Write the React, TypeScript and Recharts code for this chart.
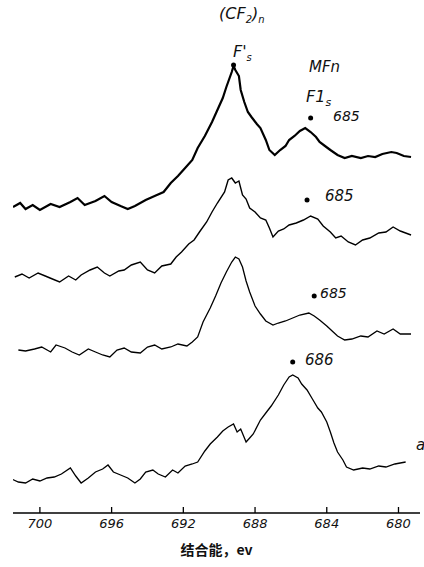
import React from 'react';
import { LineChart, Line, XAxis, YAxis, ReferenceDot } from 'recharts';

// binding energy (eV) and offset intensity for each stacked spectrum, top to bottom
const energyA = [701.5, 701.1, 700.8, 700.4, 700.0, 699.4, 698.9, 698.3, 697.9, 697.5, 696.9, 696.4, 696.0, 695.5, 695.1, 694.7, 694.1, 693.6, 693.1, 692.7, 692.3, 691.9, 691.5, 691.2, 690.8, 690.4, 690.1, 689.8, 689.6, 689.3, 689.2, 689.1, 688.9, 688.8, 688.6, 688.4, 688.2, 687.9, 687.7, 687.4, 687.2, 686.9, 686.6, 686.3, 686.1, 685.8, 685.5, 685.2, 684.9, 684.6, 684.4, 684.1, 683.8, 683.4, 683.0, 682.6, 682.1, 681.7, 681.3, 680.9, 680.4, 680.1, 679.7, 679.3];
const intensityA = [306, 310, 304, 308, 303, 309, 306, 311, 315, 308, 312, 317, 311, 307, 304, 307, 313, 317, 321, 330, 337, 345, 353, 365, 377, 391, 403, 415, 426, 441, 447, 443, 437, 423, 411, 401, 396, 389, 385, 373, 363, 358, 363, 367, 373, 377, 382, 385, 381, 376, 371, 367, 363, 358, 355, 357, 355, 357, 356, 359, 361, 360, 357, 356];

const energyB = [701.4, 701.0, 700.6, 700.1, 699.7, 699.3, 698.9, 698.4, 698.0, 697.7, 697.2, 696.8, 696.4, 696.1, 695.6, 695.3, 694.9, 694.4, 694.0, 693.6, 693.2, 692.7, 692.4, 692.1, 691.7, 691.4, 691.1, 690.7, 690.4, 690.1, 689.7, 689.5, 689.3, 689.1, 688.9, 688.7, 688.5, 688.3, 688.0, 687.7, 687.4, 687.2, 687.0, 686.7, 686.4, 686.1, 685.7, 685.3, 684.9, 684.5, 684.2, 683.8, 683.5, 683.2, 682.8, 682.4, 682.0, 681.6, 681.1, 680.7, 680.3, 679.9, 679.3];
const intensityB = [236, 239, 235, 240, 237, 234, 231, 237, 233, 238, 243, 246, 240, 237, 242, 243, 248, 251, 243, 240, 247, 249, 256, 261, 269, 273, 281, 291, 301, 310, 321, 333, 335, 330, 332, 318, 314, 305, 301, 295, 293, 285, 276, 282, 284, 288, 290, 293, 297, 294, 287, 281, 275, 277, 271, 268, 273, 275, 280, 281, 286, 282, 278];

const energyC = [701.2, 700.8, 700.3, 699.9, 699.4, 699.1, 698.6, 698.2, 697.8, 697.3, 696.9, 696.5, 696.1, 695.7, 695.3, 694.9, 694.4, 694.0, 693.6, 693.2, 692.7, 692.3, 691.8, 691.5, 691.2, 690.9, 690.5, 690.2, 689.9, 689.6, 689.3, 689.1, 688.9, 688.7, 688.5, 688.3, 688.0, 687.7, 687.4, 687.0, 686.7, 686.3, 685.9, 685.5, 685.0, 684.7, 684.4, 684.0, 683.7, 683.4, 683.0, 682.6, 682.1, 681.7, 681.2, 680.8, 680.3, 679.9, 679.3];
const intensityC = [163, 162, 164, 166, 161, 168, 165, 161, 158, 164, 161, 158, 156, 163, 165, 161, 160, 166, 168, 164, 166, 169, 167, 171, 176, 191, 205, 217, 230, 241, 251, 256, 254, 246, 232, 221, 207, 199, 192, 188, 190, 192, 195, 198, 200, 197, 193, 187, 182, 177, 173, 174, 177, 176, 182, 179, 184, 179, 179];

const energyD = [701.7, 701.2, 700.8, 700.4, 700.0, 699.6, 699.2, 698.8, 698.3, 698.0, 697.7, 697.3, 696.9, 696.5, 696.2, 695.9, 695.5, 695.1, 694.7, 694.4, 694.1, 693.7, 693.4, 693.0, 692.6, 692.3, 691.9, 691.5, 691.2, 690.8, 690.5, 690.1, 689.8, 689.5, 689.2, 689.0, 688.8, 688.5, 688.3, 688.1, 687.7, 687.4, 687.1, 686.7, 686.4, 686.1, 685.9, 685.6, 685.4, 685.1, 684.8, 684.5, 684.3, 684.0, 683.8, 683.6, 683.4, 683.1, 682.9, 682.5, 682.0, 681.6, 681.1, 680.7, 680.2, 679.6];
const intensityD = [35, 31, 30, 34, 32, 35, 36, 39, 45, 37, 30, 35, 41, 44, 48, 41, 38, 35, 30, 34, 41, 43, 39, 36, 43, 40, 47, 49, 51, 62, 69, 76, 82, 86, 89, 81, 84, 71, 75, 79, 93, 100, 107, 118, 128, 136, 138, 135, 129, 123, 114, 105, 101, 91, 81, 70, 61, 53, 46, 43, 45, 44, 47, 46, 49, 51];

// peak markers drawn on the spectra
const markerEnergy = [689.2, 684.9, 685.1, 684.7, 685.9];
const markerIntensity = [448, 395, 313, 217, 151];

const tickValues = [700, 696, 692, 688, 684, 680];

const zip = (e: number[], v: number[]) => e.map((x, i) => ({ e: x, v: v[i] }));

const seriesA = zip(energyA, intensityA);
const seriesB = zip(energyB, intensityB);
const seriesC = zip(energyC, intensityC);
const seriesD = zip(energyD, intensityD);

const handFont = '"DejaVu Sans", sans-serif';

const Tick = (props: any) => {
  const { x, y, payload } = props;
  return (
    <g>
      <line x1={x} x2={x} y1={y - 6} y2={y} stroke="#000" strokeWidth={1.3} />
      <text x={x} y={y + 15} textAnchor="middle" fontSize={13} fontStyle="italic" fontFamily={handFont} fill="#111">
        {payload.value}
      </text>
    </g>
  );
};

const note = (text: React.ReactNode, left: number, top: number, size = 14) => (
  <div
    style={{
      position: 'absolute',
      left,
      top,
      fontSize: size,
      fontStyle: 'italic',
      fontFamily: handFont,
      color: '#111',
      lineHeight: 1,
      whiteSpace: 'nowrap',
    }}
  >
    {text}
  </div>
);

export default function App() {
  return (
    <div style={{ position: 'absolute', left: 0, top: 0, width: 424, height: 567, background: '#fff', overflow: 'hidden' }}>
      <LineChart width={424} height={567} margin={{ top: 13, right: 4, bottom: 0, left: 13 }}>
        <XAxis
          type="number"
          dataKey="e"
          domain={[678.8, 701.5]}
          reversed
          allowDataOverflow
          ticks={tickValues}
          tick={<Tick />}
          tickLine={false}
          tickSize={0}
          tickMargin={0}
          height={54}
          axisLine={{ stroke: '#000', strokeWidth: 1.5 }}
          label={{
            value: '结合能，ev',
            position: 'insideBottom',
            offset: 12,
            style: { fontSize: 14, fontWeight: 'bold', fill: '#111', fontFamily: '"Noto Sans CJK SC", sans-serif' },
          }}
        />
        <YAxis hide domain={[0, 500]} allowDataOverflow />
        <Line data={seriesA} dataKey="v" type="linear" stroke="#000" strokeWidth={2.2} dot={false} isAnimationActive={false} />
        <Line data={seriesB} dataKey="v" type="linear" stroke="#000" strokeWidth={1.4} dot={false} isAnimationActive={false} />
        <Line data={seriesC} dataKey="v" type="linear" stroke="#000" strokeWidth={1.3} dot={false} isAnimationActive={false} />
        <Line data={seriesD} dataKey="v" type="linear" stroke="#000" strokeWidth={1.3} dot={false} isAnimationActive={false} />
        {markerEnergy.map((e, i) => (
          <ReferenceDot key={i} x={e} y={markerIntensity[i]} r={2.5} fill="#000" stroke="none" />
        ))}
      </LineChart>
      {note(<span>(CF<sub style={{ fontSize: 10 }}>2</sub>)<sub style={{ fontSize: 10 }}>n</sub></span>, 219, 6, 16)}
      {note(<span>F'<sub style={{ fontSize: 10 }}>s</sub></span>, 233, 44, 16)}
      {note('MFn', 309, 60, 15)}
      {note(<span>F1<sub style={{ fontSize: 11 }}>s</sub></span>, 306, 89, 16)}
      {note('685', 333, 109, 14)}
      {note('685', 325, 189, 15)}
      {note('685', 320, 286, 14)}
      {note('686', 305, 353, 15)}
      {note('a', 416, 438, 15)}
    </div>
  );
}
